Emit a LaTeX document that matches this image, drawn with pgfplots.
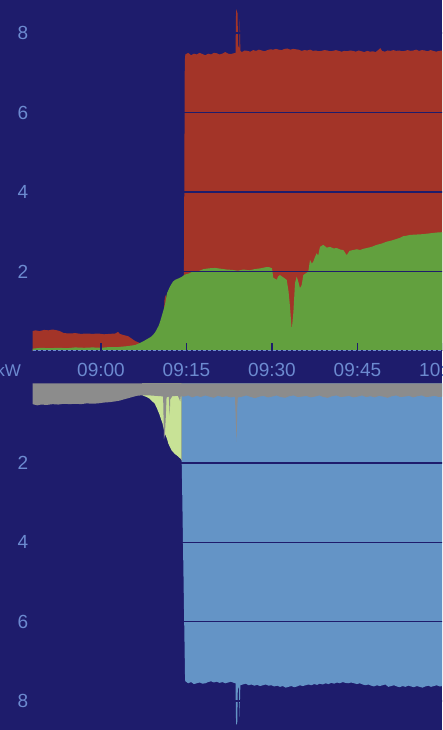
\documentclass[border=0pt]{standalone}
\usepackage{pgfplots}
\pgfplotsset{compat=1.18}
\usepackage{fontspec}
\setmainfont{Liberation Sans}
\definecolor{navy}{RGB}{30,28,108}
\definecolor{gridred}{RGB}{163,52,40}
\definecolor{solar}{RGB}{98,160,62}
\definecolor{lgreen}{RGB}{200,226,150}
\definecolor{evblue}{RGB}{100,148,198}
\definecolor{house}{RGB}{140,140,140}
\definecolor{labelblue}{RGB}{108,138,208}
\pgfplotsset{
  common/.style={
    scale only axis, width=410.4pt,
    xmin=48, xmax=120,
    axis on top,
    axis line style={draw=none},
    ytick={2,4,6,8},
    ytick style={draw=none},
    ymajorgrids, grid style={draw=navy, line width=1.5pt},
    /pgf/number format/assume math mode=true,
    tick label style={font=\fontsize{19}{22}\selectfont, text=labelblue},
    yticklabel style={inner sep=0pt, anchor=east, xshift=-4.3pt},
    clip=true,
  }
}
\begin{document}
\begin{tikzpicture}[x=1pt,y=1pt]
\useasboundingbox (0,0) rectangle (442,730);
\fill[navy] (0,0) rectangle (442,730);
\clip (0,0) rectangle (442,730);
% ---------------- top panel: supply ----------------
\begin{axis}[common, at={(32.6pt,379pt)}, anchor=south west,
  height=357.75pt, ymin=0, ymax=9,
  xtick={60,75,90,105,120},
  xticklabels={09:00,09:15,09:30,09:45,10:00},
  xtick pos=bottom, tick align=inside, major tick length=8pt,
  xtick style={draw=navy, line width=1.5pt},
  xticklabel style={inner sep=0pt, anchor=north, yshift=-12.5pt},
]
% grid import (total)
\addplot[fill=gridred, draw=none] coordinates {
(48,0.50) (48.5,0.52) (49.2,0.50) (50,0.53) (50.8,0.52) (51.5,0.54) (52.3,0.52) (52.8,0.50)
(53.5,0.45) (54.5,0.44) (55.5,0.45) (56.5,0.43) (57.5,0.44) (58.5,0.43) (59.5,0.44)
(60.5,0.42) (61.5,0.43) (62.5,0.44) (63.0,0.48) (63.3,0.43) (64.0,0.40) (64.8,0.37)
(65.5,0.30) (66.0,0.25) (66.5,0.22) (66.8,0.20) (67.0,0)
(71.05,0) (71.1,1.25) (71.25,1.37) (71.45,1.42) (71.5,0)
(74.5,0) (74.55,1.9) (74.7,7.3) (74.8,7.46)
(75.3,7.50) (75.8,7.44) (76.3,7.48) (76.8,7.46) (77.3,7.50) (77.8,7.47) (78.3,7.44)
(78.8,7.48) (79.3,7.46) (79.8,7.50) (80.3,7.49) (80.8,7.46) (81.3,7.48) (81.8,7.52)
(82.3,7.48) (82.8,7.47) (83.3,7.49) (83.6,7.50) (83.7,8.6) (83.95,8.5) (84.05,7.7)
(84.25,7.6) (84.35,8.35) (84.45,7.55)
(84.7,7.52) (85.2,7.56) (85.7,7.55) (86.2,7.53) (86.7,7.57) (87.2,7.55) (87.7,7.58)
(88.2,7.56) (88.7,7.54) (89.2,7.57) (89.7,7.59) (90.2,7.58) (90.7,7.60) (91.2,7.58)
(91.7,7.57) (92.2,7.60) (92.7,7.61) (93.2,7.58) (93.7,7.60) (94.2,7.59) (94.7,7.58)
(95.2,7.55) (95.7,7.57) (96.2,7.56) (96.7,7.58) (97.2,7.55) (97.7,7.56) (98.2,7.54)
(98.7,7.55) (99.2,7.57) (99.7,7.56) (100.2,7.54) (100.7,7.55) (101.2,7.57) (101.7,7.55)
(102.2,7.53) (102.7,7.55) (103.2,7.54) (103.7,7.56) (104.2,7.55) (104.7,7.53) (105.2,7.56)
(105.7,7.54) (106.2,7.52) (106.7,7.55) (107.2,7.53) (107.7,7.54) (108.2,7.52) (108.7,7.58)
(109.0,7.62) (109.3,7.55) (109.8,7.53) (110.3,7.56) (110.8,7.55) (111.3,7.57) (111.8,7.55)
(112.3,7.56) (112.8,7.54) (113.3,7.55) (113.8,7.57) (114.3,7.55) (114.8,7.56) (115.3,7.58)
(115.8,7.55) (116.3,7.57) (116.8,7.56) (117.3,7.54) (117.8,7.57) (118.3,7.55) (118.8,7.53)
(119.3,7.55) (120,7.56)
} \closedcycle;
% solar
\addplot[fill=solar, draw=none] coordinates {
(48.0,0.06) (49.5,0.08) (51,0.07) (52.5,0.08) (54,0.07) (55.5,0.09) (57,0.08) (58.5,0.09)
(60,0.08) (61.5,0.10) (63,0.10) (64.5,0.12) (66,0.15) (66.8,0.20) (67.5,0.25) (68.1,0.30)
(68.7,0.35) (69.1,0.40) (69.5,0.47) (69.8,0.55) (70.1,0.63) (70.35,0.73) (70.6,0.85)
(70.9,1.00) (71.2,1.15) (71.6,1.46) (72.1,1.62) (72.6,1.74) (73.0,1.79) (73.5,1.82)
(74.2,1.87) (74.7,1.92) (75.4,1.95) (76.0,1.99) (77.1,2.01) (78,2.06) (79,2.08) (80,2.09)
(81,2.07) (82,2.05) (83,2.04) (84,2.02) (85,2.05) (86,2.03) (87,2.06) (88,2.08) (89,2.11)
(89.5,2.11) (90.0,2.08) (90.23,1.84) (90.5,1.82) (90.82,1.79) (91.1,1.88) (91.4,1.91)
(92.0,1.85) (92.58,1.79) (92.9,1.50) (93.16,1.11) (93.46,0.53) (93.74,0.95) (94.04,1.71)
(94.33,1.87) (94.6,1.75) (94.91,1.58) (95.21,1.66) (95.49,1.91) (96.0,1.96) (96.37,2.00)
(96.67,2.29) (97.0,2.20) (97.25,2.25) (97.5,2.35) (97.84,2.46) (98.1,2.40) (98.42,2.62)
(99.0,2.67) (99.6,2.60) (100.18,2.62) (100.8,2.58) (101.35,2.59) (102.0,2.55) (102.51,2.54)
(103.1,2.41) (103.6,2.52) (104.26,2.54) (104.9,2.56) (105.44,2.54) (106.0,2.57) (106.61,2.59)
(107.5,2.62) (108.37,2.67) (109.2,2.70) (110.12,2.75) (111.0,2.78) (111.88,2.82) (112.5,2.85)
(113.04,2.89) (113.6,2.90) (114.21,2.92) (115.4,2.93) (116.54,2.94) (117.7,2.96)
(118.89,2.98) (120,2.99)
} \closedcycle;
\draw[navy, line width=2pt] (axis cs:48,0) -- (axis cs:120,0);
\draw[labelblue, line width=2pt, dash pattern=on 3pt off 2pt] (axis cs:48,0) -- (axis cs:120,0);
\end{axis}
\node[anchor=east, inner sep=0pt, text=labelblue, font=\fontsize{17}{20}\selectfont] at (21,359.5) {kW};
% ---------------- bottom panel: consumption ----------------
\begin{axis}[common, at={(32.6pt,346.5pt)}, anchor=north west,
  height=349.4pt, ymin=0, ymax=8.8, y dir=reverse,
  xtick=\empty,
]
% EV / main load (total)
\addplot[fill=evblue, draw=none] coordinates {
(74.14,0) (74.15,1.94) (74.2,2.3) (74.75,7.45)
(74.8,7.50) (75.3,7.55) (75.8,7.52) (76.3,7.57) (76.8,7.55) (77.3,7.53) (77.8,7.56)
(78.3,7.55) (78.8,7.52) (79.3,7.50) (79.8,7.53) (80.3,7.51) (80.8,7.54) (81.3,7.52)
(81.8,7.55) (82.3,7.53) (82.8,7.51) (83.3,7.54) (83.6,7.55) (83.7,8.6) (83.9,8.55)
(84.0,7.7) (84.2,7.62) (84.3,8.4) (84.45,7.6) (84.9,7.58) (85.4,7.56) (85.9,7.60)
(86.4,7.58) (86.9,7.61) (87.4,7.59) (87.9,7.62) (88.4,7.60) (88.9,7.58) (89.4,7.61)
(89.9,7.60) (90.4,7.63) (90.9,7.61) (91.4,7.64) (91.9,7.62) (92.4,7.66) (92.9,7.64)
(93.4,7.62) (93.9,7.65) (94.4,7.63) (94.9,7.60) (95.4,7.62) (95.9,7.60) (96.4,7.58)
(96.9,7.60) (97.4,7.57) (97.9,7.59) (98.4,7.56) (98.9,7.58) (99.4,7.55) (99.9,7.57)
(100.4,7.54) (100.9,7.56) (101.4,7.53) (101.9,7.55) (102.4,7.52) (102.9,7.54) (103.4,7.55)
(103.9,7.53) (104.4,7.55) (104.9,7.57) (105.4,7.55) (105.9,7.58) (106.4,7.60) (106.9,7.58)
(107.4,7.61) (107.9,7.63) (108.4,7.60) (108.9,7.62) (109.4,7.60) (109.9,7.58) (110.4,7.64)
(110.9,7.62) (111.4,7.60) (111.9,7.63) (112.4,7.65) (112.9,7.62) (113.4,7.64) (113.9,7.61)
(114.4,7.63) (114.9,7.65) (115.4,7.62) (115.9,7.64) (116.4,7.66) (116.9,7.63) (117.4,7.61)
(117.9,7.64) (118.4,7.62) (118.9,7.60) (119.4,7.63) (120,7.62)
} \closedcycle;
% light green (cumulative)
\addplot[fill=lgreen, draw=none] coordinates {
(67.2,0) (67.3,0.30) (68.0,0.34) (68.5,0.38) (69.0,0.45) (69.4,0.50) (69.8,0.62)
(70.2,0.76) (70.8,1.01) (71.2,1.26) (71.6,1.40) (71.8,1.51) (72.4,1.69) (73.0,1.78)
(73.3,1.81) (74.0,1.90) (74.14,1.94) (74.15,0)
} \closedcycle;
% house (grey)
\addplot[fill=house, draw=none] coordinates {
(48.0,0.52) (48.8,0.55) (49.5,0.53) (50.5,0.54) (51.5,0.52) (52.5,0.53) (53.5,0.51)
(54.5,0.52) (55.5,0.51) (56.5,0.52) (57.5,0.50) (58.5,0.51) (59.5,0.50) (60.5,0.48)
(61.5,0.47) (62.5,0.45) (63.3,0.43) (64.0,0.40) (64.8,0.37) (65.5,0.34) (66.3,0.31)
(67.0,0.30) (67.4,0.30) (68.5,0.30) (69.5,0.31) (70.5,0.32) (70.9,0.33) (71.05,1.40)
(71.2,1.30) (71.35,0.90) (71.5,0.35) (71.9,0.33) (72.05,0.80) (72.15,0.40) (72.5,0.32)
(73.5,0.31) (73.9,0.45) (74.0,0.32) (74.5,0.33) (75.3,0.30) (76.0,0.35) (76.8,0.31)
(77.5,0.34) (78.3,0.30) (79.0,0.33) (79.8,0.36) (80.5,0.31) (81.3,0.34) (82.0,0.32)
(82.8,0.35) (83.5,0.33) (83.7,1.10) (83.8,1.47) (83.9,0.60) (84.0,0.35) (84.8,0.33)
(85.5,0.30) (86.3,0.34) (87.0,0.37) (87.8,0.33) (88.5,0.31) (89.3,0.35) (90.0,0.33)
(90.8,0.30) (91.5,0.34) (92.3,0.36) (93.0,0.32) (93.8,0.30) (94.5,0.34) (95.3,0.33)
(96.0,0.31) (96.8,0.35) (97.5,0.33) (98.3,0.30) (99.0,0.34) (99.8,0.36) (100.5,0.32)
(101.3,0.30) (102.0,0.34) (102.8,0.33) (103.5,0.31) (104.3,0.35) (105.0,0.33) (105.8,0.30)
(106.5,0.34) (107.3,0.32) (108.0,0.35) (108.8,0.31) (109.5,0.33) (110.3,0.36) (111.0,0.32)
(111.8,0.30) (112.5,0.34) (113.3,0.33) (114.0,0.31) (114.8,0.35) (115.5,0.32) (116.3,0.30)
(117.0,0.34) (117.8,0.33) (118.5,0.31) (119.3,0.34) (120,0.33)
} \closedcycle;
\end{axis}
\end{tikzpicture}
\end{document}
